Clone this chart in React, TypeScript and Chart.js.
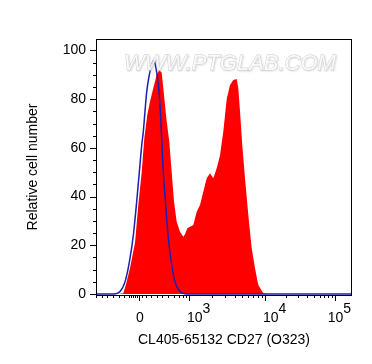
import React, { useEffect, useRef } from "react";
import { Chart, registerables } from "chart.js";

Chart.register(...registerables);

// Display channels (0..256) for the logicle-like x axis
const redX = [0, 22, 27.3, 30, 34, 39, 42.3, 45.7, 48.3, 51.3, 54, 57.3, 60.7, 63.3, 65.7, 67.3, 69, 70.7, 73.3, 75.7, 78, 80.7, 84, 87.3, 89, 91.3, 94, 97.3, 100.7, 104, 107.3, 110.7, 114, 117.3, 120.7, 124, 127.3, 130.7, 134, 137.3, 140.7, 142.3, 144, 146.3, 149, 152.3, 155.7, 159, 162.3, 167.3, 170.7, 256];
const redY = [0, 0, 0.3, 4, 10.7, 21, 36.6, 50, 64, 73.5, 79, 84.6, 90, 92, 90.8, 84.6, 77.6, 70.8, 62.5, 50, 38, 29.7, 25.6, 23.5, 24.5, 27, 27.6, 28.3, 33.8, 36.6, 42, 47.5, 49.6, 47.5, 51.6, 57, 66.6, 80, 85.8, 87.9, 88.3, 84.5, 75, 61, 47.5, 32.4, 18.8, 10.6, 3.7, 0.3, 0, 0];

const blueX = [0, 17.3, 24, 29, 33.3, 37.3, 40.7, 43.3, 45.7, 47.3, 49, 50.7, 53.3, 55.7, 58, 60, 62.3, 64, 65.7, 67.3, 69.7, 72.3, 75.7, 79, 84, 90.7, 256];
const blueY = [0, 0, 1, 5, 13, 24, 38, 50, 61, 66.6, 75, 83, 90, 94, 96, 92.7, 86, 77.6, 64, 50, 36.6, 22.9, 12, 5, 1, 0, 0];

const yTicks = [0, 20, 40, 60, 80, 100];
const yMinorTicks = [5, 10, 15, 25, 30, 35, 45, 50, 55, 65, 70, 75, 85, 90, 95];

const xMajorTicks = [43, 93, 169, 239];
const xMajorLabels = [["0", ""], ["10", "3"], ["10", "4"], ["10", "5"]];
const xMinorTicks = [0, 5.7, 11.3, 17, 22.7, 28.3, 33, 35, 37, 39, 41, 45.5, 50, 55, 60.7, 66.3, 72, 77.7, 83.3, 87.3, 90, 115.9, 129.3, 138.8, 146.1, 152.1, 157.2, 161.6, 165.5, 190.1, 202.4, 211.1, 217.9, 223.5, 228.2, 232.2, 235.8];

const xTitle = "CL405-65132 CD27 (O323)";
const yTitle = "Relative cell number";
const watermark = "WWW.PTGLAB.COM";

const FONT = "'Liberation Sans', Arial, sans-serif";

const decorPlugin = {
  id: "decor",
  afterDatasetsDraw(chart: any) {
    const { ctx, chartArea } = chart;
    const xs = chart.scales.x;
    const ys = chart.scales.y;
    ctx.save();
    // watermark
    ctx.font = `italic 22px ${FONT}`;
    ctx.textAlign = "center";
    ctx.textBaseline = "middle";
    ctx.shadowColor = "rgba(160,160,160,0.5)";
    ctx.shadowOffsetX = 1;
    ctx.shadowOffsetY = 1;
    ctx.shadowBlur = 1.5;
    ctx.strokeStyle = "rgba(200,200,200,0.9)";
    ctx.lineWidth = 0.9;
    ctx.strokeText(watermark, 230, 64);
    ctx.shadowColor = "transparent";
    ctx.fillStyle = "rgba(255,255,255,0.85)";
    ctx.fillText(watermark, 230, 64);
    ctx.restore();

    ctx.save();
    ctx.strokeStyle = "#000";
    ctx.lineWidth = 1;
    // frame
    ctx.strokeRect(chartArea.left + 0.5, chartArea.top + 0.5, chartArea.right - chartArea.left - 1, chartArea.bottom - chartArea.top);
    // y ticks
    ctx.beginPath();
    for (const v of yTicks) {
      const p = Math.round(ys.getPixelForValue(v)) + 0.5;
      ctx.moveTo(chartArea.left - 6, p);
      ctx.lineTo(chartArea.left, p);
    }
    for (const v of yMinorTicks) {
      const p = Math.round(ys.getPixelForValue(v)) + 0.5;
      ctx.moveTo(chartArea.left - 3, p);
      ctx.lineTo(chartArea.left, p);
    }
    // x ticks
    const b = chartArea.bottom;
    for (const v of xMajorTicks) {
      const p = Math.round(xs.getPixelForValue(v)) + 0.5;
      ctx.moveTo(p, b);
      ctx.lineTo(p, b + 6);
    }
    for (const v of xMinorTicks) {
      const p = Math.round(xs.getPixelForValue(v)) + 0.5;
      ctx.moveTo(p, b);
      ctx.lineTo(p, b + 3);
    }
    ctx.stroke();

    // x tick labels
    ctx.fillStyle = "#000";
    ctx.textBaseline = "alphabetic";
    ctx.textAlign = "left";
    ctx.font = `14px ${FONT}`;
    xMajorTicks.forEach((v, i) => {
      const [base, sup] = xMajorLabels[i];
      const p = xs.getPixelForValue(v);
      const wb = ctx.measureText(base).width;
      const ws = sup ? ctx.measureText(sup).width : 0;
      let x0: number;
      if (!sup) {
        x0 = p - wb / 2 + 1;
      } else {
        x0 = p - 2;
        if (x0 + wb + ws > chartArea.right - 1) x0 = chartArea.right - 1 - wb - ws;
      }
      ctx.fillText(base, x0, 322);
      if (sup) ctx.fillText(sup, x0 + wb, 313);
    });
    ctx.restore();
  },
};

export default function App() {
  const ref = useRef<HTMLCanvasElement | null>(null);
  useEffect(() => {
    if (!ref.current) return;
    const chart = new Chart(ref.current, {
      type: "line",
      data: {
        datasets: [
          {
            label: "Isotype",
            data: blueX.map((x, i) => ({ x, y: blueY[i] })),
            borderColor: "#1e1eb0",
            borderWidth: 1.5,
            pointRadius: 0,
            fill: false,
            cubicInterpolationMode: "monotone",
          },
          {
            label: "CD27",
            data: redX.map((x, i) => ({ x, y: redY[i] })),
            borderColor: "#ff0000",
            backgroundColor: "#ff0000",
            borderWidth: 0,
            pointRadius: 0,
            fill: "origin",
            tension: 0,
          },
        ],
      },
      options: {
        responsive: false,
        animation: false,
        layout: { padding: { top: 39, right: 20, left: 0, bottom: 0 } },
        plugins: { legend: { display: false }, tooltip: { enabled: false } },
        scales: {
          x: {
            type: "linear",
            min: 0,
            max: 256,
            grid: { display: false, drawTicks: false },
            border: { display: false },
            ticks: { display: false },
            title: {
              display: true,
              text: xTitle,
              color: "#000",
              font: { family: FONT, size: 14 },
              padding: { top: 0, bottom: 15 },
            },
            afterFit(scale: any) {
              scale.height = 69;
            },
          },
          y: {
            type: "linear",
            min: -0.4,
            max: 104.7,
            grid: { display: false, drawTicks: false },
            border: { display: false },
            afterBuildTicks(scale: any) {
              scale.ticks = yTicks.map((v) => ({ value: v }));
            },
            ticks: {
              color: "#000",
              font: { family: FONT, size: 14 },
              padding: 10,
            },
            title: {
              display: true,
              text: yTitle,
              color: "#000",
              font: { family: FONT, size: 14 },
              padding: { top: 25, bottom: 0 },
            },
            afterFit(scale: any) {
              scale.width = 96;
            },
          },
        },
      },
      plugins: [decorPlugin],
    } as any);
    return () => chart.destroy();
  }, []);
  return (
    <div style={{ position: "absolute", left: 0, top: 0, width: 372, height: 364, background: "#fff" }}>
      <canvas ref={ref} width={372} height={364} style={{ display: "block" }} />
    </div>
  );
}
